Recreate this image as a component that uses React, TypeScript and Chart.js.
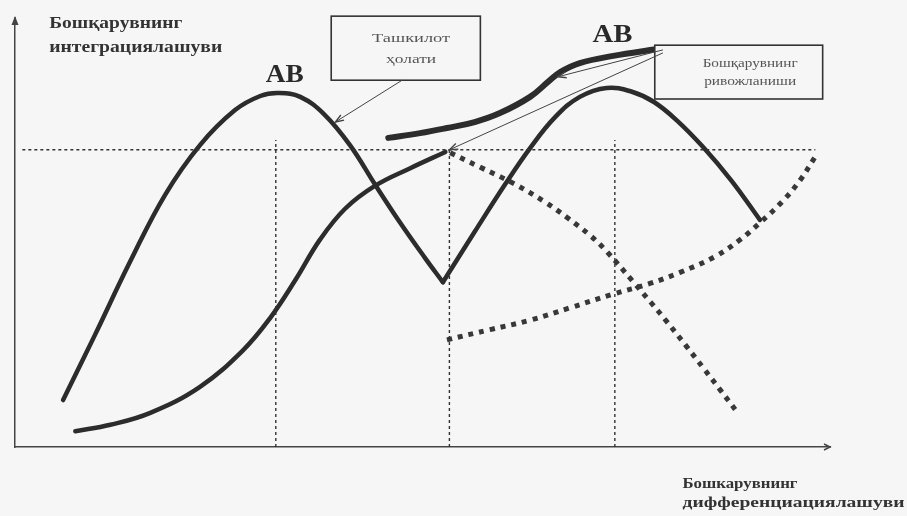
import React, { useEffect, useRef } from "react";
import { Chart, registerables } from "chart.js";

Chart.register(...registerables);

// ---- Data (diagram units: x 0..100, y 0..100) ----
const stateLeftArc = [
  [5.9, 11.0], [9.8, 26.2], [14.1, 43.3], [18.4, 59.0], [22.7, 70.7], [27.0, 78.9],
  [30.1, 82.2], [32.3, 82.9], [35.0, 82.0], [38.0, 77.8], [41.1, 70.7], [44.2, 61.4],
  [47.2, 52.7], [50.3, 44.3], [52.5, 38.6],
];
const stateRightArc = [
  [52.5, 38.6], [56.4, 50.4], [60.1, 61.4], [63.2, 70.0], [66.3, 77.3], [69.3, 82.0],
  [72.6, 84.1], [75.7, 83.2], [78.4, 80.8], [81.2, 76.5], [84.4, 70.3], [87.9, 62.4],
  [91.4, 53.2],
];
const integrationCurve = [
  [7.4, 3.7], [11.7, 5.2], [16.6, 8.0], [22.7, 14.1], [28.0, 22.7], [31.3, 30.2],
  [34.4, 39.1], [37.4, 48.5], [40.5, 55.8], [44.2, 61.2], [48.5, 65.3], [52.8, 69.1],
];
const developmentCurve = [
  [45.8, 72.4], [49.7, 73.5], [53.0, 74.7], [56.4, 76.1], [59.5, 78.2], [63.2, 82.0],
  [65.4, 85.5], [66.9, 87.8], [69.3, 89.9], [73.4, 91.6], [78.8, 93.2],
];
const dottedFall = [
  [53.4, 68.9], [57.1, 65.5], [61.1, 61.8], [65.0, 57.4], [67.7, 53.8], [70.6, 49.5],
  [72.6, 45.8], [75.8, 38.8], [78.0, 33.9], [80.0, 29.3], [82.3, 23.8], [84.5, 18.4],
  [86.6, 13.2], [88.6, 8.2],
];
const dottedRise = [
  [53.0, 25.1], [58.3, 27.5], [63.2, 29.7], [68.1, 32.6], [73.4, 35.8], [77.9, 38.3],
  [81.6, 40.9], [85.9, 44.6], [89.0, 48.6], [91.4, 52.5], [94.2, 57.6], [96.3, 62.4],
  [98.2, 68.0],
];
const refLevel = [[0.9, 69.6], [98.2, 69.6]];
const refVerticalA = [[32.0, 0], [32.0, 71.9]];
const refVerticalB = [[53.3, 0], [53.3, 69.6]];
const refVerticalC = [[73.6, 0], [73.6, 71.9]];

const yAxisTitle = ["Бошқарувнинг", "интеграциялашуви"];
const xAxisTitle = ["Бошкарувнинг", "дифференциациялашуви"];
const peakLabel = "АВ";
const stateBoxText = ["Ташкилот", "ҳолати"];
const developmentBoxText = ["Бошқарувнинг", "ривожланиши"];

// ---- Styles / layout ----
const INK = "#2c2c2c";
const BG = "#f6f6f6";
const SERIF = '"Liberation Serif", "DejaVu Serif", "Times New Roman", serif';

type Txt = { text: string; x: number; y: number; font: string; align: CanvasTextAlign; width: number; color: string };

const texts: Txt[] = [
  { text: yAxisTitle[0], x: 4.2, y: 98.1, font: `bold 16px ${SERIF}`, align: "left", width: 133, color: "#333" },
  { text: yAxisTitle[1], x: 4.2, y: 92.5, font: `bold 16px ${SERIF}`, align: "left", width: 173, color: "#333" },
  { text: xAxisTitle[0], x: 81.9, y: -9.6, font: `bold 15px ${SERIF}`, align: "left", width: 115, color: "#333" },
  { text: xAxisTitle[1], x: 81.9, y: -14.1, font: `bold 15px ${SERIF}`, align: "left", width: 222, color: "#333" },
  { text: peakLabel, x: 33.1, y: 85.5, font: `bold 25px ${SERIF}`, align: "center", width: 38, color: "#2a2a2a" },
  { text: peakLabel, x: 73.3, y: 94.8, font: `bold 25px ${SERIF}`, align: "center", width: 40, color: "#2a2a2a" },
  { text: stateBoxText[0], x: 48.6, y: 94.8, font: `13px ${SERIF}`, align: "center", width: 78, color: "#555" },
  { text: stateBoxText[1], x: 48.6, y: 89.9, font: `13px ${SERIF}`, align: "center", width: 50, color: "#555" },
  { text: developmentBoxText[0], x: 90.2, y: 89.0, font: `12px ${SERIF}`, align: "center", width: 95, color: "#555" },
  { text: developmentBoxText[1], x: 90.2, y: 84.8, font: `12px ${SERIF}`, align: "center", width: 92, color: "#555" },
];

const boxes = [
  { x1: 38.8, y1: 100.9, x2: 57.1, y2: 85.9 },
  { x1: 78.5, y1: 94.1, x2: 99.1, y2: 81.5 },
];

const arrows = [
  { x1: 47.5, y1: 85.9, x2: 39.3, y2: 76.1 },
  { x1: 79.5, y1: 93.0, x2: 66.6, y2: 86.7 },
  { x1: 79.5, y1: 92.3, x2: 53.3, y2: 69.6 },
];

const toPts = (a: number[][]) => a.map(([x, y]) => ({ x, y }));

function arrowHead(ctx: CanvasRenderingContext2D, x1: number, y1: number, x2: number, y2: number, len: number, spread: number) {
  const ang = Math.atan2(y2 - y1, x2 - x1);
  ctx.beginPath();
  ctx.moveTo(x2 - len * Math.cos(ang - spread), y2 - len * Math.sin(ang - spread));
  ctx.lineTo(x2, y2);
  ctx.lineTo(x2 - len * Math.cos(ang + spread), y2 - len * Math.sin(ang + spread));
  ctx.stroke();
}

const diagramPlugin = {
  id: "diagram",
  beforeDraw(chart: any) {
    const { ctx, width, height } = chart;
    ctx.save();
    ctx.fillStyle = BG;
    ctx.fillRect(0, 0, width, height);
    ctx.restore();
  },
  afterDraw(chart: any) {
    const { ctx, chartArea } = chart;
    const sx = chart.scales.x;
    const sy = chart.scales.y;
    const X = (v: number) => sx.getPixelForValue(v);
    const Y = (v: number) => sy.getPixelForValue(v);
    ctx.save();

    // axis extensions + arrowheads
    ctx.strokeStyle = "#444";
    ctx.fillStyle = "#444";
    ctx.lineWidth = 1.5;
    ctx.beginPath();
    ctx.moveTo(chartArea.left, chartArea.top);
    ctx.lineTo(chartArea.left, chartArea.top - 3);
    ctx.stroke();
    ctx.beginPath();
    ctx.moveTo(chartArea.left, chartArea.top - 4);
    ctx.lineTo(chartArea.left - 3.5, chartArea.top + 5);
    ctx.lineTo(chartArea.left + 3.5, chartArea.top + 5);
    ctx.closePath();
    ctx.fill();
    ctx.beginPath();
    ctx.moveTo(chartArea.right - 6, chartArea.bottom - 3);
    ctx.lineTo(chartArea.right, chartArea.bottom);
    ctx.lineTo(chartArea.right - 6, chartArea.bottom + 3);
    ctx.stroke();

    // boxes
    ctx.strokeStyle = "#333";
    ctx.lineWidth = 1.6;
    for (const b of boxes) {
      const l = X(b.x1), t = Y(b.y1), r = X(b.x2), bt = Y(b.y2);
      ctx.fillStyle = BG;
      ctx.fillRect(l, t, r - l, bt - t);
      ctx.strokeRect(l, t, r - l, bt - t);
    }

    // arrows
    ctx.strokeStyle = "#444";
    ctx.lineWidth = 1;
    for (const a of arrows) {
      const x1 = X(a.x1), y1 = Y(a.y1), x2 = X(a.x2), y2 = Y(a.y2);
      ctx.beginPath();
      ctx.moveTo(x1, y1);
      ctx.lineTo(x2, y2);
      ctx.stroke();
      ctx.lineWidth = 1.4;
      arrowHead(ctx, x1, y1, x2, y2, 9, 0.35);
      ctx.lineWidth = 1;
    }

    // texts
    for (const t of texts) {
      ctx.font = t.font;
      ctx.fillStyle = t.color;
      ctx.textBaseline = "alphabetic";
      const m = ctx.measureText(t.text).width;
      const k = t.width / m;
      ctx.save();
      ctx.translate(X(t.x), Y(t.y));
      ctx.scale(k, 1);
      ctx.textAlign = t.align;
      ctx.fillText(t.text, 0, 0);
      ctx.restore();
    }
    ctx.restore();
  },
};

export default function App() {
  const ref = useRef<HTMLCanvasElement | null>(null);
  useEffect(() => {
    if (!ref.current) return;
    const base = { pointRadius: 0, fill: false, tension: 0.4, borderColor: INK };
    const refLine = { pointRadius: 0, fill: false, borderColor: "#333", borderWidth: 1.4, borderDash: [3, 3], tension: 0 };
    const chart = new Chart(ref.current, {
      type: "line",
      data: {
        datasets: [
          { ...refLine, data: toPts(refLevel) },
          { ...refLine, data: toPts(refVerticalA) },
          { ...refLine, data: toPts(refVerticalB) },
          { ...refLine, data: toPts(refVerticalC) },
          { ...base, data: toPts(dottedFall), borderWidth: 5, borderDash: [5, 6], borderColor: "#383838" },
          { ...base, data: toPts(dottedRise), borderWidth: 5, borderDash: [5, 6], borderColor: "#383838" },
          { ...base, data: toPts(stateLeftArc), borderWidth: 4.5, borderCapStyle: "round" },
          { ...base, data: toPts(stateRightArc), borderWidth: 4.5, borderCapStyle: "round" },
          { ...base, data: toPts(integrationCurve), borderWidth: 4.5, borderCapStyle: "round" },
          { ...base, data: toPts(developmentCurve), borderWidth: 6, borderCapStyle: "round" },
        ] as any,
      },
      options: {
        animation: false,
        responsive: false,
        layout: { padding: { left: 15, right: 77, top: 20, bottom: 69 } },
        plugins: { legend: { display: false }, tooltip: { enabled: false } },
        scales: {
          x: {
            type: "linear", min: 0, max: 100,
            grid: { display: false, drawTicks: false },
            ticks: { display: false },
            border: { display: true, color: "#444", width: 1.5 },
            afterFit: (s: any) => { s.height = 0; },
          },
          y: {
            type: "linear", min: 0, max: 100,
            grid: { display: false, drawTicks: false },
            ticks: { display: false },
            border: { display: true, color: "#444", width: 1.5 },
            afterFit: (s: any) => { s.width = 0; },
          },
        },
      },
      plugins: [diagramPlugin],
    });
    return () => chart.destroy();
  }, []);
  return (
    <div style={{ position: "absolute", left: 0, top: 0, width: 907, height: 516, background: BG }}>
      <canvas ref={ref} width={907} height={516} />
    </div>
  );
}
